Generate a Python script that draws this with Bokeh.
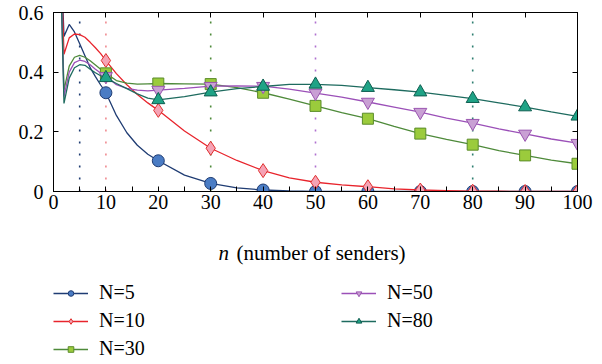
import numpy as np
from bokeh.plotting import figure
from bokeh.layouts import column
from bokeh.models import (Legend, LegendItem, LinearAxis, FixedTicker, Label,
                          CustomJSTickFormatter, Range1d)
from bokeh.embed import file_html
from bokeh.resources import INLINE

# ---- data ----
n_vals = [1, 2, 3, 4, 5, 6, 7, 8, 9, 10, 12, 14, 16, 18, 20, 25, 30, 35, 40, 45,
          50, 55, 60, 65, 70, 75, 80, 85, 90, 95, 100]
y_N5 = [1.0, 0.52, 0.56, 0.535, 0.495, 0.455, 0.415, 0.385, 0.357, 0.331, 0.255,
        0.197, 0.155, 0.125, 0.103, 0.055, 0.027, 0.012, 0.005, 0.002,
        0.0, 0.0, 0.0, 0.0, 0.0, 0.0, 0.0, 0.0, 0.0, 0.0, 0.0]
y_N10 = [1.0, 0.46, 0.515, 0.528, 0.526, 0.517, 0.50, 0.482, 0.462, 0.439, 0.395,
         0.358, 0.325, 0.297, 0.272, 0.203, 0.145, 0.104, 0.070, 0.046,
         0.031, 0.022, 0.016, 0.009, 0.005, 0.003, 0.001, 0.001, 0.0, 0.0, 0.0]
y_N30 = [1.0, 0.34, 0.42, 0.45, 0.456, 0.45, 0.438, 0.424, 0.41, 0.396, 0.372,
         0.363, 0.360, 0.361, 0.362, 0.361, 0.360, 0.348, 0.331, 0.310,
         0.287, 0.264, 0.244, 0.218, 0.194, 0.175, 0.157, 0.137, 0.121, 0.105, 0.093]
y_N50 = [1.0, 0.318, 0.40, 0.432, 0.44, 0.436, 0.425, 0.41, 0.397, 0.386, 0.358,
         0.346, 0.340, 0.337, 0.340, 0.346, 0.353, 0.354, 0.353, 0.343,
         0.330, 0.316, 0.300, 0.283, 0.266, 0.246, 0.229, 0.210, 0.193, 0.176, 0.162]
y_N80 = [1.0, 0.295, 0.38, 0.415, 0.425, 0.423, 0.41, 0.398, 0.388, 0.381, 0.362,
         0.345, 0.327, 0.313, 0.307, 0.318, 0.333, 0.345, 0.352, 0.359,
         0.359, 0.356, 0.348, 0.341, 0.333, 0.322, 0.311, 0.297, 0.283, 0.267, 0.252]
marker_n = [10, 20, 30, 40, 50, 60, 70, 80, 90, 100]
N_values = [5, 10, 30, 50, 80]
labels = ["N=5", "N=10", "N=30", "N=50", "N=80"]
x_ticks = [0, 10, 20, 30, 40, 50, 60, 70, 80, 90, 100]
y_ticks = [0, 0.2, 0.4, 0.6]

series = [y_N5, y_N10, y_N30, y_N50, y_N80]
line_colors = ["#1f3c73", "#e8242c", "#4e8a3a", "#9b50b8", "#1e6b5f"]
fill_colors = ["#4a7cc4", "#f5a3b5", "#9bcb3c", "#c9a0d4", "#1fa386"]
edge_colors = ["#1f3c73", "#e0302f", "#5b8c2a", "#9a55b0", "#0e5e50"]
dot_colors = ["#1f3c73", "#f08a90", "#4e8a3a", "#b070d0", "#2e7f70"]
markers = ["circle", "diamond", "square", "inverted_triangle", "triangle"]
sizes = [12, 14, 11, 13, 13]

FONT = "Liberation Serif"
W = 602
H_TOTAL = 364
H1 = 221
H2 = H_TOTAL - H1
FL, FR = 53, 577   # frame left / right (page px), shared by both panels

p = figure(width=W, height=H1,
           min_border_left=FL, min_border_right=W - FR, min_border_top=12,
           min_border_bottom=30,
           x_range=Range1d(0, 100), y_range=Range1d(0, 0.6),
           output_backend="svg", toolbar_location=None)
p.xgrid.visible = False
p.ygrid.visible = False
p.outline_line_color = "black"
p.outline_line_alpha = 1
p.outline_line_width = 1
p.background_fill_color = "white"
p.border_fill_color = "white"

# x axis
p.xaxis.ticker = FixedTicker(ticks=x_ticks, minor_ticks=list(range(5, 100, 10)))
p.xaxis.major_tick_in = 5
p.xaxis.major_tick_out = 0
p.xaxis.minor_tick_in = 5
p.xaxis.minor_tick_out = 0
p.xaxis.major_label_standoff = 3
p.xaxis.major_label_text_font = FONT
p.xaxis.major_label_text_font_size = "20px"
p.xaxis.major_label_text_color = "black"
p.xaxis.axis_line_color = "black"

# y axis
p.yaxis.ticker = FixedTicker(ticks=y_ticks, minor_ticks=[])
p.yaxis.formatter = CustomJSTickFormatter(code="return tick == 0 ? '0' : tick.toFixed(1)")
p.yaxis.major_tick_in = 5
p.yaxis.major_tick_out = 0
p.yaxis.minor_tick_line_color = None
p.yaxis.major_label_standoff = 10
p.yaxis.major_label_text_font = FONT
p.yaxis.major_label_text_font_size = "20px"
p.yaxis.major_label_text_color = "black"
p.yaxis.axis_line_color = "black"

# top and right tick-only axes
blank = CustomJSTickFormatter(code="return ''")
top = LinearAxis(ticker=FixedTicker(ticks=x_ticks, minor_ticks=[]), formatter=blank,
                 major_tick_in=5, major_tick_out=0, minor_tick_line_color=None,
                 major_label_standoff=0, axis_line_color="black")
p.add_layout(top, "above")
right = LinearAxis(ticker=FixedTicker(ticks=y_ticks, minor_ticks=[]), formatter=blank,
                   major_tick_in=5, major_tick_out=0, minor_tick_line_color=None,
                   major_label_standoff=0, axis_line_color="black")
p.add_layout(right, "right")

# dotted verticals at the N values
p.segment(x0=N_values, y0=[0] * 5, x1=N_values, y1=[0.57] * 5,
          line_color=dot_colors, line_dash="2 10", line_width=1.6)

n_arr = np.array(n_vals)
mask = np.isin(n_arr, marker_n)
for ys, lc, fc, ec, mk, sz in zip(series, line_colors, fill_colors, edge_colors,
                                  markers, sizes):
    ys = np.array(ys)
    p.line(n_arr, ys, line_color=lc, line_width=1.3)
    p.scatter(n_arr[mask], ys[mask], marker=mk, size=sz, fill_color=fc,
              line_color=ec, line_width=1)

# ---- lower panel: axis title and legend (data units = page pixels) ----
p2 = figure(width=W, height=H2, x_range=Range1d(FL, FR), y_range=Range1d(H_TOTAL, H1),
            min_border=0, min_border_left=FL, min_border_right=W - FR,
            x_axis_location=None, y_axis_location=None,
            output_backend="svg", toolbar_location=None)
p2.xgrid.visible = False
p2.ygrid.visible = False
p2.outline_line_color = None
p2.background_fill_color = "white"
p2.border_fill_color = "white"

p2.add_layout(Label(x=218, y=252, text="n", text_font=FONT, text_font_style="italic",
                    text_font_size="21px", text_baseline="alphabetic",
                    text_align="left", text_color="black"))
p2.add_layout(Label(x=236, y=252, text="(number of senders)", text_font=FONT,
                    text_font_size="21px", text_baseline="alphabetic",
                    text_align="left", text_color="black"))

items = []
for lc, fc, ec, mk, lab in zip(line_colors, fill_colors, edge_colors, markers, labels):
    lr = p2.line([np.nan], [np.nan], line_color=lc, line_width=1.3)
    mr = p2.scatter([np.nan], [np.nan], marker=mk, fill_color=fc, line_color=ec,
                    line_width=1)
    items.append(LegendItem(label=lab, renderers=[lr, mr]))

legend = Legend(items=items, location=(0, 4), orientation="vertical", nrows=3,
                glyph_width=35, glyph_height=14, label_width=237, label_standoff=11,
                spacing=5, padding=0, margin=0, border_line_color=None,
                background_fill_alpha=0, label_text_font=FONT,
                label_text_font_size="20px", label_text_color="black")
p2.add_layout(legend, "center")

layout = column(p, p2, spacing=0)
open("out.html", "w").write(file_html(layout, INLINE))
